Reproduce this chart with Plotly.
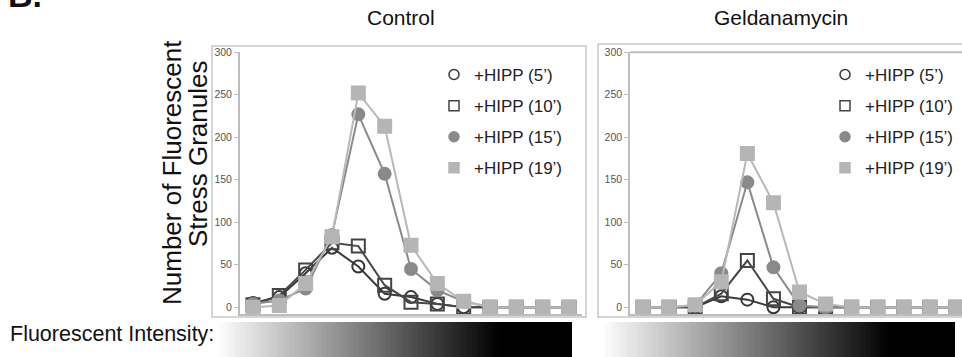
import plotly.graph_objects as go

W, H = 962, 357

# ---------------- data ----------------
bins = list(range(13))
series_names = ["+HIPP (5’)", "+HIPP (10’)", "+HIPP (15’)", "+HIPP (19’)"]
control_5 = [5, 12, 40, 70, 48, 16, 12, 4, 0, 0, 0, 0, 0]
control_10 = [3, 14, 44, 76, 72, 26, 6, 4, 0, 0, 0, 0, 0]
control_15 = [4, 8, 22, 85, 227, 157, 45, 20, 7, 0, 0, 0, 0]
control_19 = [0, 2, 28, 83, 252, 213, 73, 28, 7, 0, 0, 0, 0]
gelda_5 = [0, 0, 0, 13, 9, 0, 0, 0, 0, 0, 0, 0, 0]
gelda_10 = [0, 0, 0, 16, 55, 10, 0, 0, 0, 0, 0, 0, 0]
gelda_15 = [0, 0, 2, 40, 147, 47, 2, 0, 0, 0, 0, 0, 0]
gelda_19 = [0, 0, 3, 30, 181, 123, 18, 4, 0, 0, 0, 0, 0]
y_ticks = [0, 50, 100, 150, 200, 250, 300]
panel_titles = ["Control", "Geldanamycin"]
gradient_levels = [list(range(100))]

FONT = "Arial, Liberation Sans, sans-serif"


def px(x):
    return x / W


def py(y):
    return 1 - y / H


styles = [
    dict(symbol="circle-open", color="#383838", size=12, lc="#3a3a3a"),
    dict(symbol="square-open", color="#444444", size=13, lc="#474747"),
    dict(symbol="circle", color="#8a8a8a", size=12, lc="#8a8a8a"),
    dict(symbol="square", color="#b5b5b5", size=13, lc="#b8b8b8"),
]

fig = go.Figure()

panels = [
    ("x", "y", [control_5, control_10, control_15, control_19], "legend"),
    ("x2", "y2", [gelda_5, gelda_10, gelda_15, gelda_19], "legend2"),
]

for xa, ya, data, leg in panels:
    for name, vals, st in zip(series_names, data, styles):
        fig.add_trace(go.Scatter(
            x=bins, y=vals, xaxis=xa, yaxis=ya, mode="lines+markers",
            line=dict(color=st["lc"], width=2),
            marker=dict(symbol=st["symbol"], size=st["size"], color=st["color"],
                        line=dict(width=2, color=st["color"])),
            showlegend=False, hoverinfo="skip"))
    for i, (name, st) in enumerate(zip(series_names, styles)):
        fig.add_trace(go.Scatter(
            x=[None], y=[None], xaxis=xa, yaxis=ya, mode="markers", name=name,
            marker=dict(symbol=st["symbol"], size=10, color=st["color"],
                        line=dict(width=1.5, color=st["color"])),
            legend=leg, legendgroup=f"{leg}{i}", showlegend=True))

# gradient bars
fig.add_trace(go.Heatmap(z=gradient_levels, xaxis="x3", yaxis="y3",
                         colorscale=[[0, "#ffffff"], [0.8, "#000000"], [1, "#000000"]],
                         showscale=False, hoverinfo="skip"))
fig.add_trace(go.Heatmap(z=gradient_levels, xaxis="x4", yaxis="y4",
                         colorscale=[[0, "#ffffff"], [0.82, "#000000"], [1, "#000000"]],
                         showscale=False, hoverinfo="skip"))

axis_common = dict(showgrid=False, zeroline=False, showline=True, linecolor="#bdbdbd",
                   linewidth=1.5, automargin=False)
ydom = [py(314), py(52.3)]
yax = dict(axis_common, range=[-7.9, 300], domain=ydom, tickvals=y_ticks, ticks="outside",
           ticklen=4, tickcolor="#bdbdbd", tickfont=dict(size=10.5, color="#555", family=FONT))
xax = dict(axis_common, showticklabels=False, ticks="")

hidden = dict(visible=False, showgrid=False, zeroline=False)

legend_common = dict(xanchor="left", yanchor="top",
                     font=dict(size=17, color="#222", family=FONT), bgcolor="rgba(0,0,0,0)",
                     traceorder="grouped", tracegroupgap=6, itemwidth=30)

fig.update_layout(
    width=W, height=H, autosize=False,
    margin=dict(l=0, r=0, t=0, b=0),
    paper_bgcolor="white", plot_bgcolor="white",
    font=dict(family=FONT, color="#222"),
    hovermode=False,
    xaxis=dict(xax, domain=[px(239.8), px(582.2)], range=[-0.5, 12.5], anchor="y"),
    yaxis=dict(yax, anchor="x"),
    xaxis2=dict(xax, domain=[px(630), 1], range=[-0.5, 12.23], anchor="y2"),
    yaxis2=dict(yax, anchor="x2"),
    xaxis3=dict(hidden, domain=[px(215), px(572)], anchor="y3"),
    yaxis3=dict(hidden, domain=[0, py(322)], anchor="x3"),
    xaxis4=dict(hidden, domain=[px(600), px(955)], anchor="y4"),
    yaxis4=dict(hidden, domain=[0, py(322)], anchor="x4"),
    legend=dict(legend_common, x=px(434), y=py(57)),
    legend2=dict(legend_common, x=px(825), y=py(57)),
    shapes=[
        dict(type="rect", xref="paper", yref="paper", x0=px(212), x1=px(586), y0=py(317), y1=py(46),
             line=dict(color="#c8c8c8", width=1.5), layer="below"),
        dict(type="rect", xref="paper", yref="paper", x0=px(598), x1=px(985), y0=py(317), y1=py(44),
             line=dict(color="#c8c8c8", width=1.5), layer="below"),
        dict(type="line", xref="paper", yref="paper", x0=px(630), x1=1, y0=py(52.3), y1=py(52.3),
             line=dict(color="#bdbdbd", width=2)),
    ],
    annotations=[
        dict(text=panel_titles[0], x=px(401), y=py(17), xref="paper", yref="paper",
             xanchor="center", yanchor="middle", showarrow=False,
             font=dict(size=21, color="#111", family=FONT)),
        dict(text=panel_titles[1], x=px(781), y=py(17), xref="paper", yref="paper",
             xanchor="center", yanchor="middle", showarrow=False,
             font=dict(size=21, color="#111", family=FONT)),
        dict(text="Number of Fluorescent", x=px(172), y=py(173), xref="paper", yref="paper",
             xanchor="center", yanchor="middle", textangle=-90, showarrow=False,
             font=dict(size=26, color="#111", family=FONT)),
        dict(text="Stress Granules", x=px(198), y=py(154), xref="paper", yref="paper",
             xanchor="center", yanchor="middle", textangle=-90, showarrow=False,
             font=dict(size=26, color="#111", family=FONT)),
        dict(text="Fluorescent Intensity:", x=px(8), y=py(334), xref="paper", yref="paper",
             xanchor="left", yanchor="middle", showarrow=False,
             font=dict(size=21.5, color="#111", family=FONT)),
        dict(text="<b>B.</b>", x=px(6), y=py(16), xref="paper", yref="paper",
             xanchor="left", yanchor="bottom", showarrow=False,
             font=dict(size=34, color="#111", family=FONT)),
    ],
)

# remove the page's default 8px body margin so the figure fills the window exactly
fig.write_html("out.html", config={"displayModeBar": False},
               post_script="document.body.style.margin='0';")
